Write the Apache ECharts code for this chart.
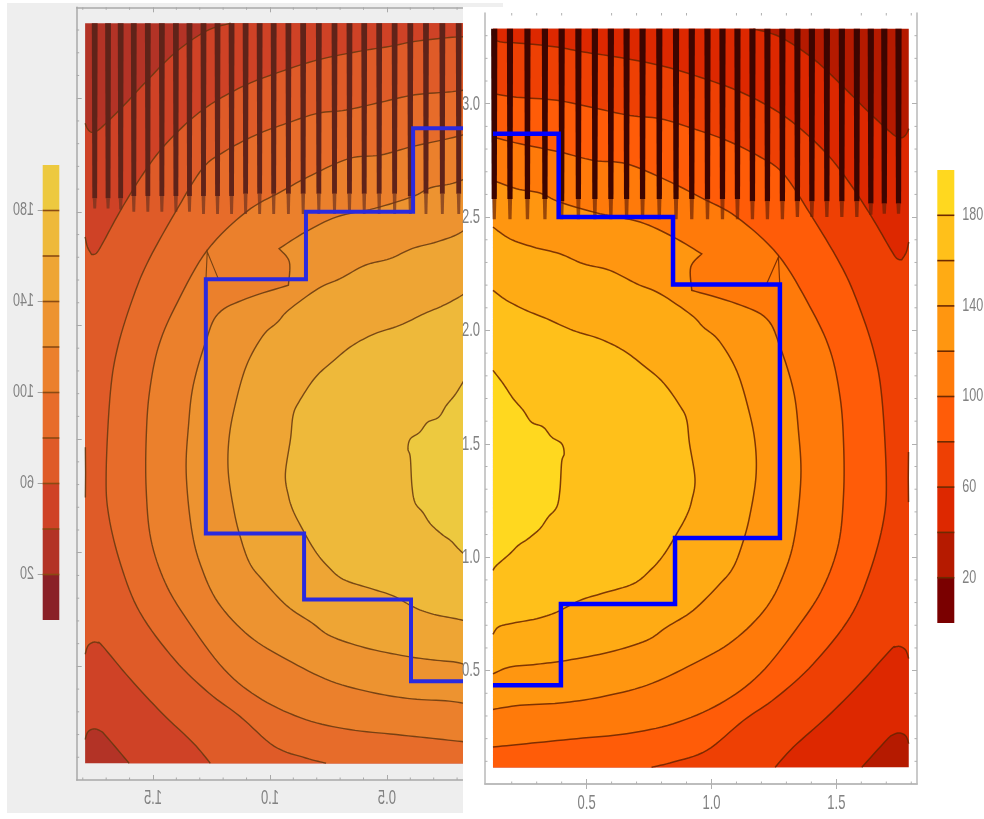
<!DOCTYPE html>
<html><head><meta charset="utf-8">
<style>html,body{margin:0;padding:0;background:#fff}#c{width:984px;height:819px;filter:blur(0.45px)}</style>
<script src="https://cdn.jsdelivr.net/npm/echarts@6/dist/echarts.min.js"></script>
</head><body><div id="c"></div>
<script>
// ---- axis values
const xTickValues = [0.5, 1.0, 1.5];
const yTickValues = [0.5, 1.0, 1.5, 2.0, 2.5, 3.0];
const xMinorValues = [0.2,0.3,0.4,0.6,0.7,0.8,0.9,1.1,1.2,1.3,1.4,1.6,1.7,1.8];
const yMinorValues = [0.1,0.2,0.3,0.4,0.6,0.7,0.8,0.9,1.1,1.2,1.3,1.4,1.6,1.7,1.8,1.9,2.1,2.2,2.3,2.4,2.6,2.7,2.8,2.9,3.1,3.2,3.3];
const barLabelValues = [20, 60, 100, 140, 180];
const barEdges = [0,20,40,60,80,100,120,140,160,180,200];

// ---- plot extent
const plotX = [0.125, 1.79];
const plotY = [0.074, 3.33];

// ---- contour lines, one list per level (x, y)
const level180 = [[0.125,1.824],[0.166,1.765],[0.206,1.699],[0.246,1.648],[0.279,1.596],[0.326,1.574],[0.360,1.530],[0.400,1.501],[0.410,1.457],[0.400,1.420],[0.393,1.295],[0.380,1.221],[0.346,1.177],[0.313,1.126],[0.266,1.082],[0.226,1.052],[0.193,1.016],[0.139,0.964],[0.125,0.942]];
const level160 = [[0.125,2.177],[0.179,2.133],[0.259,2.088],[0.340,2.052],[0.446,2.000],[0.553,1.963],[0.647,1.912],[0.727,1.846],[0.807,1.770],[0.877,1.662],[0.901,1.604],[0.912,1.501],[0.934,1.346],[0.921,1.251],[0.901,1.185],[0.861,1.104],[0.807,1.008],[0.754,0.942],[0.687,0.883],[0.567,0.842],[0.473,0.810],[0.380,0.758],[0.300,0.729],[0.193,0.707],[0.146,0.692],[0.125,0.660]];
const level140 = [[0.125,2.456],[0.193,2.404],[0.286,2.368],[0.393,2.338],[0.487,2.294],[0.593,2.265],[0.700,2.206],[0.794,2.162],[0.920,2.068],[0.967,2.015],[1.030,1.955],[1.101,1.822],[1.150,1.645],[1.175,1.501],[1.178,1.354],[1.155,1.192],[1.128,1.074],[1.088,0.957],[1.034,0.883],[0.927,0.766],[0.821,0.692],[0.740,0.633],[0.593,0.582],[0.420,0.545],[0.300,0.528],[0.193,0.516],[0.125,0.486]];
const level120 = [[0.125,2.662],[0.219,2.625],[0.313,2.606],[0.393,2.566],[0.553,2.515],[0.714,2.478],[0.847,2.412],[0.961,2.338],[0.917,2.280],[0.921,2.177],[1.101,2.118],[1.221,2.052],[1.275,1.927],[1.328,1.736],[1.348,1.560],[1.358,1.354],[1.335,1.104],[1.295,0.942],[1.221,0.780],[1.088,0.633],[0.927,0.530],[0.740,0.435],[0.553,0.383],[0.393,0.357],[0.233,0.347],[0.125,0.329]];
const level100 = [[0.125,2.853],[0.233,2.823],[0.393,2.787],[0.527,2.750],[0.660,2.735],[0.821,2.662],[0.954,2.588],[1.101,2.500],[1.268,2.331],[1.395,2.103],[1.475,1.912],[1.515,1.706],[1.529,1.501],[1.529,1.280],[1.509,1.060],[1.448,0.869],[1.355,0.707],[1.195,0.486],[1.034,0.354],[0.847,0.266],[0.660,0.222],[0.460,0.200],[0.259,0.178],[0.125,0.163]];
const level80 = [[0.125,3.044],[0.219,3.029],[0.380,3.015],[0.527,2.982],[0.674,2.948],[0.794,2.934],[0.927,2.890],[1.061,2.838],[1.195,2.765],[1.288,2.691],[1.395,2.515],[1.515,2.294],[1.582,2.132],[1.649,1.912],[1.682,1.706],[1.700,1.354],[1.689,1.163],[1.636,0.942],[1.555,0.736],[1.408,0.530],[1.261,0.383],[1.128,0.280],[0.981,0.148],[0.847,0.097],[0.760,0.074]];
const level60Top = [[0.125,3.286],[0.159,3.272],[0.233,3.267],[0.380,3.250],[0.487,3.228],[0.620,3.206],[0.794,3.169],[0.954,3.117],[1.101,3.059],[1.235,2.985],[1.341,2.904],[1.462,2.779],[1.555,2.647],[1.642,2.500],[1.716,2.360],[1.742,2.318],[1.762,2.312],[1.780,2.345],[1.79,2.390]];
const level60Bottom = [[1.79,0.553],[1.778,0.590],[1.756,0.606],[1.735,0.604],[1.716,0.590],[1.595,0.442],[1.462,0.295],[1.328,0.163],[1.255,0.074]];
const level60Edge = [[1.789,1.464],[1.788,1.350],[1.789,1.243]];
const level40Top = [[1.168,3.33],[1.275,3.294],[1.408,3.198],[1.529,3.073],[1.636,2.956],[1.716,2.875],[1.745,2.853],[1.765,2.851],[1.780,2.866],[1.79,2.890]];
const level40Bottom = [[1.79,0.178],[1.778,0.212],[1.752,0.225],[1.725,0.216],[1.702,0.195],[1.602,0.074]];
const notchTriangle = [[1.221,2.206],[1.268,2.324],[1.275,2.169]];

// ---- dark stripes across the top of the field
const stripeX = [0.130,0.193,0.263,0.333,0.400,0.467,0.533,0.597,0.660,0.724,0.791,0.858,0.921,0.984,1.044,1.104,1.164,1.224,1.284,1.344,1.402,1.462,1.522,1.582,1.638,1.692,1.749];
const stripeSolidEnd = [2.58,2.58,2.58,2.58,2.57,2.58,2.58,2.58,2.58,2.58,2.58,2.58,2.58,2.58,2.58,2.58,2.57,2.57,2.57,2.57,2.57,2.57,2.57,2.57,2.56,2.56,2.56];
const stripeTipEnd = [2.49,2.49,2.49,2.49,2.49,2.49,2.49,2.49,2.49,2.49,2.49,2.49,2.49,2.49,2.49,2.49,2.49,2.49,2.49,2.50,2.50,2.50,2.50,2.50,2.51,2.515,2.515];

// ---- blue step outline
const stepOutline = [[0.125,2.868],[0.388,2.868],[0.388,2.5],[0.846,2.5],[0.846,2.203],[1.274,2.203],[1.274,1.085],[0.854,1.085],[0.854,0.794],[0.397,0.794],[0.397,0.435],[0.125,0.435]];

// ---- colours, lowest band first
const bandsRight = ['#7a0000','#b51a00','#dd2800','#ee4004','#ff5c08','#ff7a0a','#ff9610','#ffab14','#ffc01a','#ffd81f'];
const bandsLeft  = ['#8a2027','#b33326','#cf4226','#df5b28','#e76c2a','#eb802c','#ed9330','#eea534','#eeb93a','#edc93f'];

const FONT = '"Liberation Sans",sans-serif';
const LEFT = 0, RIGHT = 1, BAR_LEFT = 2, BAR_RIGHT = 3;

// rounds a read-off outline the way a smooth line option would, keeping real corners sharp
function rounded(pts) {
  const out = [pts[0]];
  const sharp = i => {
    if (i <= 0 || i >= pts.length-1) return true;
    const a = [pts[i][0]-pts[i-1][0], pts[i][1]-pts[i-1][1]], b = [pts[i+1][0]-pts[i][0], pts[i+1][1]-pts[i][1]];
    const c = (a[0]*b[0]+a[1]*b[1])/(Math.hypot(a[0],a[1])*Math.hypot(b[0],b[1]));
    return c < 0.35;
  };
  for (let i = 0; i < pts.length-1; i++) {
    const p1 = pts[i], p2 = pts[i+1];
    const p0 = sharp(i) ? p1 : pts[i-1], p3 = sharp(i+1) ? p2 : pts[i+2];
    for (let k = 1; k <= 8; k++) {
      const t = k/8, t2 = t*t, t3 = t2*t;
      out.push([0,1].map(d => 0.5*(2*p1[d] + (p2[d]-p0[d])*t + (2*p0[d]-5*p1[d]+4*p2[d]-p3[d])*t2 + (3*p1[d]-p0[d]-3*p2[d]+p3[d])*t3)));
    }
  }
  return out;
}
function custom(g, data, renderItem, clip) {
  return {type:'custom', coordinateSystem:'cartesian2d', xAxisIndex:g, yAxisIndex:g, clip:!!clip,
    silent:true, animation:false, data, renderItem};
}
// filled region bounded by contour segments and plot corners
function region(g, segments, corners, fill, stroke, lw, straight) {
  const flat = [].concat(...segments);
  return custom(g, flat, (p, api) => {
    if (p.dataIndex !== 0) return null;
    const lines = segments.map(s => { const q = s.map(v => api.coord(v)); return straight ? q : rounded(q); });
    const poly = [].concat(...lines).concat(corners.map(q => api.coord(q)));
    const children = [{type:'polygon', shape:{points:poly}, style:{fill, stroke:null}}];
    lines.forEach(s => children.push({type:'polyline', shape:{points:s}, style:{fill:null, stroke, lineWidth:lw}}));
    return {type:'group', children};
  }, true);
}
function stripes(g, solid, tip, w0, w1) {
  return custom(g, stripeX.map((x,i)=>[x,stripeSolidEnd[i],stripeTipEnd[i]]), (p, api) => {
    const x = api.value(0), top = api.coord([x, plotY[1]]), a = api.coord([x, api.value(1)]), b = api.coord([x, api.value(2)]);
    return {type:'group', children:[
      {type:'polygon', shape:{points:[[top[0]-w0,top[1]],[top[0]+w0,top[1]],[a[0]+w1,a[1]],[a[0]-w1,a[1]]]}, style:{fill:solid}},
      {type:'polygon', shape:{points:[[a[0]-w1+0.5,a[1]],[a[0]+w1-0.5,a[1]],[b[0]+w1-1,b[1]],[b[0]-w1+1,b[1]]]}, style:{fill:tip}}
    ]};
  }, true);
}
function field(g, bands, stroke, solid, tip, w0, w1, lw) {
  const [x0,x1] = plotX, [y0,y1] = plotY;
  return [
    region(g, [[[x0,y0],[x1,y0],[x1,y1],[x0,y1]]], [], bands[1], 'rgba(0,0,0,0)', 0, true),
    region(g, [level40Top, level40Bottom], [[x0,y0],[x0,y1]], bands[2], stroke, lw),
    region(g, [level60Top, level60Bottom], [[x0,y0]], bands[3], stroke, lw),
    region(g, [level80], [[x0,y0]], bands[4], stroke, lw),
    region(g, [level100], [[x0,y0]], bands[5], stroke, lw),
    region(g, [level120], [], bands[6], stroke, lw),
    region(g, [notchTriangle], [], bands[5], stroke, lw*0.8, true),
    region(g, [level140], [], bands[7], stroke, lw),
    region(g, [level160], [], bands[8], stroke, lw),
    region(g, [level180], [], bands[9], stroke, lw),
    region(g, [level60Edge], [], 'rgba(0,0,0,0)', stroke, lw, true),
    stripes(g, solid, tip, w0, w1)
  ];
}
// short ticks between the labelled ones, on every framed side
function minorTicks(g, color, right) {
  return custom(g, [0], (p, api) => {
    const r = p.coordSys, kids = [], len = 2.5;
    const seg = (a,b,c,d) => kids.push({type:'line', shape:{x1:a,y1:b,x2:c,y2:d}, style:{stroke:color, lineWidth:1}});
    xMinorValues.forEach(v => {
      const px = api.coord([v, 1])[0];
      if (px < r.x || px > r.x + r.width) return;
      seg(px, r.y, px, r.y+len); seg(px, r.y+r.height, px, r.y+r.height-len);
    });
    yMinorValues.forEach(v => {
      const py = api.coord([1, v])[1];
      seg(r.x, py, r.x+len, py);
      if (right) seg(r.x+r.width, py, r.x+r.width-len, py);
    });
    return {type:'group', children:kids};
  });
}
function colorBar(g, bands, line) {
  return custom(g, bands.map((c,i)=>[barEdges[i], barEdges[i+1]]), (p, api) => {
    const a = api.coord([0, api.value(0)]), b = api.coord([1, api.value(1)]);
    const kids = [{type:'rect', shape:{x:a[0], y:b[1], width:b[0]-a[0], height:a[1]-b[1]}, style:{fill:bands[p.dataIndex]}}];
    if (p.dataIndex > 0) kids.push({type:'line', shape:{x1:a[0], y1:a[1], x2:b[0], y2:a[1]}, style:{stroke:line, lineWidth:1.6}});
    return {type:'group', children:kids};
  });
}
// tick labels: the source picture is squeezed sideways, and its left half is mirrored
function labels(g, values, fmt, toPoint, align, dx, dy, size, scaleX) {
  const s = custom(g, values, (p, api) => {
    const v = values[p.dataIndex], c = api.coord(toPoint(v));
    return {type:'text', x:c[0]+dx, y:c[1]+dy, scaleX, originX:0, originY:0,
      style:{text:fmt(v), x:0, y:0, align, verticalAlign:'middle', fill:'#828282', font:size+'px '+FONT}};
  });
  s.z = 20;
  return s;
}

const frameL = {show:true, lineStyle:{color:'#a9a9a9', width:1.5}};
const frameR = {show:true, lineStyle:{color:'#b9b9b9', width:1.5}};
const tickL = v => ({show:true, inside:true, length:5, customValues:v, lineStyle:{color:'#a9a9a9', width:1}});
const tickR = v => ({show:true, inside:true, length:5, customValues:v, lineStyle:{color:'#b0b0b0', width:1}});
const off = {show:false};

const xRangeL = {min:0.176, max:1.826, inverse:true}, xRangeR = {min:0.093, max:1.823};
const yRange = {min:0, max:3.4};
const ax = (o) => Object.assign({type:'value', splitLine:off, minorTick:off, axisLabel:off, axisTick:off, axisLine:off}, o);
const fixed1 = v => v.toFixed(1);

const option = {
  backgroundColor:'#ffffff',
  animation:false,
  graphic:{elements:[
    {type:'rect', z:-10, shape:{x:7, y:3, width:456, height:810}, style:{fill:'#eeeeee'}},
    {type:'rect', z:-10, shape:{x:463, y:3, width:40, height:4}, style:{fill:'#efefef'}},
    {type:'rect', z:10, shape:{x:463, y:7, width:20, height:812}, style:{fill:'#ffffff'}}
  ]},
  grid:[
    {left:76.7, top:7.3, width:386, height:772.7},
    {left:485, top:13, width:432, height:771},
    {left:42.7, top:165, width:16.6, height:455},
    {left:937.3, top:170, width:17, height:453}
  ],
  xAxis:[
    ax({gridIndex:0, ...xRangeL, position:'bottom', axisLine:frameL, axisTick:tickL(xTickValues)}),
    ax({gridIndex:1, ...xRangeR, position:'bottom', axisLine:frameR, axisTick:tickR(xTickValues)}),
    ax({gridIndex:2, min:0, max:1}),
    ax({gridIndex:3, min:0, max:1}),
    ax({gridIndex:0, ...xRangeL, position:'top', axisLine:frameL, axisTick:tickL(xTickValues)}),
    ax({gridIndex:1, ...xRangeR, position:'top', axisLine:frameR, axisTick:tickR(xTickValues)})
  ],
  yAxis:[
    ax({gridIndex:0, ...yRange, position:'left', axisLine:frameL, axisTick:tickL(yTickValues)}),
    ax({gridIndex:1, ...yRange, position:'left', axisLine:frameR, axisTick:tickR(yTickValues)}),
    ax({gridIndex:2, min:0, max:200, position:'left',
        axisTick:{show:true, length:5, customValues:barLabelValues, lineStyle:{color:'#a0a0a0', width:1}}}),
    ax({gridIndex:3, min:0, max:200, position:'right',
        axisTick:{show:true, length:5, customValues:barLabelValues, lineStyle:{color:'#a0a0a0', width:1}}}),
    ax({gridIndex:1, ...yRange, position:'right', axisLine:frameR, axisTick:tickR(yTickValues)})
  ],
  series:[
    ...field(LEFT, bandsLeft, 'rgba(100,55,15,0.85)', '#5f2319', 'rgba(110,50,30,0.7)', 2.9, 2.4, 1.4),
    ...field(RIGHT, bandsRight, 'rgba(105,35,0,0.85)', '#3d0500', 'rgba(100,30,5,0.65)', 3.1, 2.6, 1.5),
    minorTicks(LEFT, '#a9a9a9', false),
    minorTicks(RIGHT, '#b0b0b0', true),
    {type:'line', xAxisIndex:LEFT, yAxisIndex:LEFT, data:stepOutline, showSymbol:false, silent:true, animation:false,
      lineStyle:{color:'#2a2adf', width:4, join:'miter', cap:'butt'}},
    {type:'line', xAxisIndex:RIGHT, yAxisIndex:RIGHT, data:stepOutline, showSymbol:false, silent:true, animation:false,
      lineStyle:{color:'#0000ff', width:4.5, join:'miter', cap:'butt'}},
    colorBar(BAR_LEFT, bandsLeft, '#8a4a12'),
    colorBar(BAR_RIGHT, bandsRight, '#6e2a00'),
    labels(LEFT, xTickValues, fixed1, v=>[v,0], 'center', 0, 18, 21, -0.62),
    labels(RIGHT, xTickValues, fixed1, v=>[v,0], 'center', 0, 19, 21, 0.62),
    labels(RIGHT, yTickValues, fixed1, v=>[0.093,v], 'right', -5, 0, 21, 0.62),
    labels(BAR_LEFT, barLabelValues, String, v=>[0,v], 'left', -8.7, 0, 18, -0.7),
    labels(BAR_RIGHT, barLabelValues, String, v=>[1,v], 'left', 8, 0, 18, 0.7)
  ]
};
echarts.init(document.getElementById('c'), null, {renderer:'canvas'}).setOption(option);
</script></body></html>
